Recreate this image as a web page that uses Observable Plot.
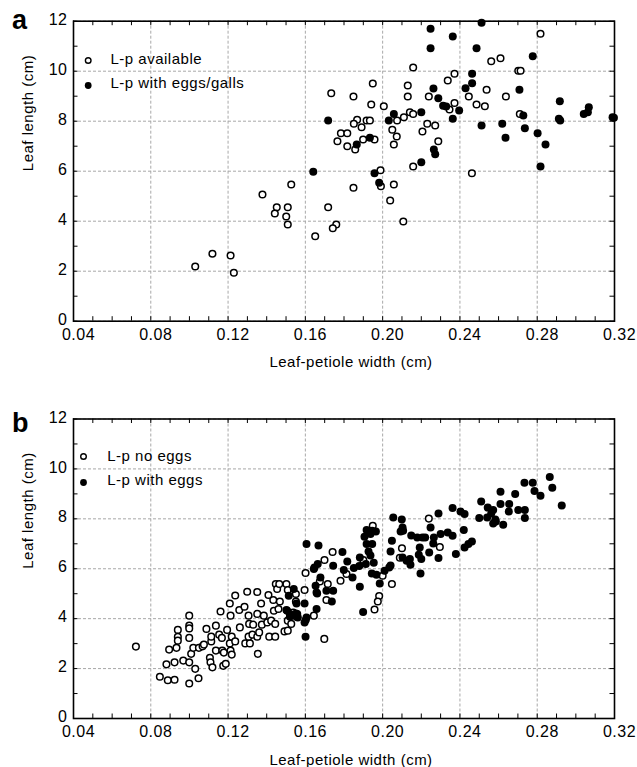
<!DOCTYPE html>
<html><head><meta charset="utf-8">
<script src="https://cdn.jsdelivr.net/npm/d3@7"></script>
<script src="https://cdn.jsdelivr.net/npm/@observablehq/plot@0.6"></script>
<style>
body{margin:0;background:#fff;}
#chart{width:637px;height:767px;}
#chart svg{display:block;}
</style></head><body><div id="chart"></div>
<script>
// ---- tick labels ----
const xTicks = [0.04, 0.08, 0.12, 0.16, 0.20, 0.24, 0.28, 0.32];
const yTicks = [0, 2, 4, 6, 8, 10, 12];
const xMinor = d3.range(4, 33).map(d => d / 100);
const yMinor = d3.range(0, 13);
const xTitle = "Leaf-petiole width (cm)";
const yTitle = "Leaf length (cm)";
const legendA = ["L-p available", "L-p with eggs/galls"];
const legendB = ["L-p no eggs", "L-p with eggs"];

// ---- panel a: [leaf-petiole width, leaf length] ----
const aAvailable = [
[0.2817,11.50],[0.2562,10.40],[0.2610,10.52],[0.2702,10.02],[0.2714,10.02],[0.2158,10.15],[0.2372,9.90],[0.2337,9.63],
[0.1949,9.51],[0.2130,9.43],[0.1734,9.12],[0.1849,8.99],[0.2130,8.99],[0.2239,8.99],[0.2538,9.26],[0.2446,8.99],[0.2638,8.99],
[0.1941,8.67],[0.2006,8.60],[0.2372,8.73],[0.2346,8.47],[0.2486,8.67],[0.2529,8.60],[0.2141,8.36],[0.2158,8.29],[0.2110,8.16],
[0.2075,8.03],[0.1868,8.06],[0.1917,8.03],[0.1934,8.03],[0.1851,7.90],[0.1891,7.76],[0.2231,7.90],[0.2272,7.83],[0.2710,8.29],
[0.1784,7.52],[0.1817,7.52],[0.1766,7.20],[0.1817,7.00],[0.1858,6.87],[0.1899,7.27],[0.1958,7.27],[0.2050,7.66],[0.2073,7.39],
[0.2058,7.07],[0.2206,7.59],[0.2288,7.20],[0.2158,6.19],[0.1989,6.04],[0.2462,5.92],[0.1849,5.34],[0.1991,5.40],[0.2058,5.47],
[0.2039,4.83],[0.1718,4.56],[0.1760,3.87],[0.1742,3.72],[0.1651,3.40],[0.2107,3.99],[0.1378,5.07],[0.1527,5.47],[0.1452,4.56],
[0.1509,4.56],[0.1442,4.31],[0.1501,4.19],[0.1509,3.87],[0.1030,2.19],[0.1119,2.70],[0.1213,2.63],[0.1230,1.94]
];
const aEggsGalls = [
[0.2248,11.70],[0.2512,11.94],[0.2363,11.39],[0.2248,10.92],[0.2486,10.92],[0.2777,10.60],[0.2463,9.90],[0.2463,9.52],
[0.2429,9.32],[0.2263,9.31],[0.2708,9.26],[0.2288,8.92],[0.2313,8.62],[0.2329,8.59],[0.2396,8.43],[0.2363,8.10],[0.2200,8.36],
[0.2058,8.29],[0.2032,8.03],[0.1718,8.03],[0.2512,7.83],[0.2619,7.90],[0.2728,8.23],[0.2736,7.72],[0.2636,7.34],[0.2802,7.52],
[0.2843,7.07],[0.2917,8.80],[0.2912,8.10],[0.2919,8.03],[0.3067,8.56],[0.3041,8.29],[0.3062,8.36],[0.3197,8.14],[0.3190,8.16],
[0.2817,6.19],[0.2265,6.87],[0.2272,6.68],[0.2200,6.36],[0.1934,7.34],[0.1866,7.07],[0.1641,5.98],[0.1958,5.92],[0.1982,5.54]
];

// ---- panel b ----
const bNoEggs = [
[0.0723,2.88],[0.0847,1.67],[0.0888,1.53],[0.0923,1.55],[0.0999,1.40],[0.0881,2.17],[0.0923,2.25],[0.0895,2.76],[0.0933,2.83],
[0.0940,3.55],[0.0940,3.27],[0.0940,3.12],[0.0968,2.32],[0.0999,2.25],[0.0999,4.12],[0.0999,3.72],[0.0999,3.61],[0.0999,3.23],
[0.1009,2.59],[0.1020,2.83],[0.1030,1.99],[0.1047,1.61],[0.1049,2.83],[0.1068,2.89],[0.1075,2.96],[0.1088,3.59],[0.1106,2.43],
[0.1109,2.25],[0.1119,2.05],[0.1113,3.09],[0.1113,3.28],[0.1137,3.72],[0.1137,2.72],[0.1154,3.36],[0.1161,4.29],[0.1168,3.23],
[0.1170,2.72],[0.1178,2.64],[0.1175,2.11],[0.1188,2.19],[0.1195,3.55],[0.1209,4.61],[0.1213,4.12],[0.1213,2.72],[0.1219,2.56],
[0.1209,3.01],[0.1219,3.28],[0.1237,3.09],[0.1237,4.93],[0.1261,3.65],[0.1258,4.35],[0.1285,4.48],[0.1289,3.01],[0.1299,5.08],
[0.1306,4.12],[0.1309,3.79],[0.1313,3.01],[0.1306,3.28],[0.1326,3.36],[0.1330,3.76],[0.1351,5.07],[0.1351,4.19],[0.1354,2.59],
[0.1351,3.28],[0.1361,3.45],[0.1375,3.76],[0.1371,4.61],[0.1385,4.12],[0.1403,3.85],[0.1409,4.95],[0.1413,3.28],[0.1423,3.92],
[0.1434,4.75],[0.1444,3.28],[0.1444,3.79],[0.1447,5.39],[0.1454,5.19],[0.1465,5.39],[0.1437,4.32],[0.1468,4.69],[0.1461,4.39],
[0.1492,3.49],[0.1502,5.39],[0.1509,5.15],[0.1509,3.92],[0.1527,3.79],[0.1551,4.99],[0.1551,4.69],[0.1554,4.08],[0.1596,5.15],
[0.1601,5.83],[0.1644,4.12],[0.1509,3.52],[0.1537,4.25],[0.1741,6.67],[0.1699,6.35],[0.1675,5.49],[0.1716,5.39],[0.1782,5.52],
[0.1709,4.75],[0.1698,3.19],[0.1813,5.79],[0.1900,6.35],[0.2000,5.72],[0.2048,5.39],[0.1982,4.91],[0.1975,4.69],[0.1958,4.37],
[0.2100,6.82],[0.2089,6.44],[0.1658,5.05],[0.2239,8.01],[0.1949,7.72],[0.2296,6.87]
];
const bWithEggs = [
[0.1540,5.19],[0.1514,4.92],[0.1506,4.32],[0.1520,4.19],[0.1551,4.21],[0.1596,4.61],[0.1596,3.85],[0.1601,3.28],[0.1644,5.99],
[0.1653,5.32],[0.1658,4.39],[0.1678,5.65],[0.1554,4.61],[0.1502,4.35],[0.1558,4.19],[0.1561,4.05],[0.1606,4.05],[0.1520,4.08],
[0.1606,6.99],[0.1668,6.93],[0.1792,6.67],[0.1647,6.05],[0.1664,6.19],[0.1744,6.12],[0.1817,6.29],[0.1799,5.95],[0.1851,6.03],
[0.1844,5.65],[0.1879,6.11],[0.1882,6.45],[0.1906,7.28],[0.1917,6.99],[0.1927,6.69],[0.1937,6.53],[0.1913,6.19],[0.1954,6.24],
[0.1944,5.81],[0.1968,5.76],[0.1985,5.41],[0.2010,5.92],[0.2034,6.05],[0.2041,6.13],[0.2041,6.69],[0.2048,7.12],[0.1937,7.39],
[0.1965,7.49],[0.2093,7.49],[0.1882,5.28],[0.1899,4.27],[0.1709,5.12],[0.1744,5.12],[0.1737,4.69],[0.1661,5.01],[0.1602,3.95],
[0.1917,7.55],[0.1946,7.52],[0.1946,6.99],[0.2187,6.56],
[0.2362,8.43],[0.2403,8.29],[0.2424,8.19],[0.2289,8.21],[0.2055,8.05],[0.2099,7.97],[0.2103,7.65],[0.2106,7.52],[0.2248,7.65],
[0.2148,7.33],[0.2179,7.25],[0.2206,7.25],[0.2220,7.25],[0.2265,7.25],[0.2300,7.39],[0.2337,7.45],[0.2362,7.32],[0.2262,7.01],
[0.2192,6.85],[0.2241,6.65],[0.2200,6.39],[0.2289,6.43],[0.2379,6.59],[0.2420,7.55],[0.2444,6.99],[0.2462,7.09],[0.2424,6.85],
[0.2103,6.45],[0.2124,6.32],[0.2141,6.39],[0.2144,6.16],[0.2196,5.81],[0.2510,8.69],[0.2544,8.45],[0.2562,8.21],[0.2586,7.89],
[0.2624,7.76],[0.2610,8.59],[0.2655,8.59],[0.2500,8.03],[0.2541,8.05],[0.2610,9.09],
[0.2865,9.68],[0.2878,9.25],[0.2927,8.53],[0.2734,9.45],[0.2777,9.45],[0.2786,9.12],[0.2817,8.92],[0.2686,8.99],[0.2702,8.35],
[0.2736,8.35],[0.2736,8.03],[0.2653,8.29],[0.2572,7.81],[0.2572,8.35],[0.2583,7.97]
];

const FONT = "'Liberation Sans', Arial, Helvetica, sans-serif";

function panel(cfg) {
  const {open, filled, legend, letter, height, marginTop, marginBottom, leg, letterDy, titleDy} = cfg;
  const W = 637 - 73 - 23;
  const H = height - marginTop - marginBottom;
  const tk = 4.5;
  return Plot.plot({
    width: 637, height, marginLeft: 73, marginRight: 23, marginTop, marginBottom,
    style: {fontFamily: FONT, fontSize: "16px", color: "#000", background: "#fff", overflow: "visible", letterSpacing: "0.5px"},
    x: {domain: [0.04, 0.32]},
    y: {domain: [0, 12]},
    marks: [
      Plot.gridX(xTicks, {stroke: "#a8a8a8", strokeOpacity: 1, strokeWidth: 1, strokeDasharray: "3,2"}),
      Plot.gridY(yTicks, {stroke: "#a8a8a8", strokeOpacity: 1, strokeWidth: 1, strokeDasharray: "3,2"}),
      Plot.axisX({ticks: xTicks, tickFormat: d3.format(".2f"), tickSize: 0, tickPadding: 7, dx: 5, label: null, fill: "#000"}),
      Plot.axisY({ticks: yTicks, tickSize: 0, tickPadding: 6, dy: -1.5, label: null, fill: "#000"}),
      Plot.tickX(xMinor, {x: d => d, insetTop: H - tk, stroke: "#000"}),
      Plot.tickX(xMinor, {x: d => d, insetBottom: H - tk, stroke: "#000"}),
      Plot.tickY(yMinor, {y: d => d, insetRight: W - tk, stroke: "#000"}),
      Plot.tickY(yMinor, {y: d => d, insetLeft: W - tk, stroke: "#000"}),
      Plot.frame({stroke: "#000", strokeWidth: 1.6}),
      Plot.dot(open, {x: d => d[0], y: d => d[1], r: 3.3, stroke: "#000", strokeWidth: 1.5, fill: "#fff"}),
      Plot.dot(filled, {x: d => d[0], y: d => d[1], r: 4, fill: "#000", stroke: "none"}),
      // legend
      Plot.dot([legend[0]], {frameAnchor: "top-left", dx: leg.mx, dy: leg.my1, r: 2.8, stroke: "#000", strokeWidth: 1.4, fill: "#fff"}),
      Plot.dot([legend[1]], {frameAnchor: "top-left", dx: leg.mx, dy: leg.my2, r: 3.4, fill: "#000"}),
      Plot.text([legend.join("\n")], {text: d => d, frameAnchor: "top-left", dx: leg.tx, dy: leg.ty, textAnchor: "start", lineAnchor: "top", lineHeight: 1.6, fontSize: 15, fill: "#000"}),
      // axis titles
      Plot.text([xTitle], {text: d => d, frameAnchor: "bottom", dx: 7, dy: titleDy, lineAnchor: "middle", fontSize: 15, fill: "#000"}),
      Plot.text([yTitle], {text: d => d, frameAnchor: "left", dx: -45, rotate: -90, lineAnchor: "middle", fontSize: 15, fill: "#000"}),
      // panel letter
      Plot.text([letter], {text: d => d, frameAnchor: "top-left", dx: -61.5, dy: letterDy, textAnchor: "start", lineAnchor: "middle", fontSize: 27, fontWeight: "bold", fill: "#000"})
    ]
  });
}

const chart = document.getElementById("chart");
chart.append(panel({
  open: aAvailable, filled: aEggsGalls, legend: legendA, letter: "a",
  height: 385, marginTop: 20.7, marginBottom: 64.3,
  leg: {mx: 14.7, my1: 39.3, my2: 64.3, tx: 37, ty: 25.8},
  letterDy: -1, titleDy: 41
}));
chart.append(panel({
  open: bNoEggs, filled: bWithEggs, legend: legendB, letter: "b",
  height: 382, marginTop: 33.5, marginBottom: 49,
  leg: {mx: 10, my1: 37.5, my2: 63.5, tx: 33.7, ty: 25},
  letterDy: 4.6, titleDy: 42
}));
</script>
</body></html>
